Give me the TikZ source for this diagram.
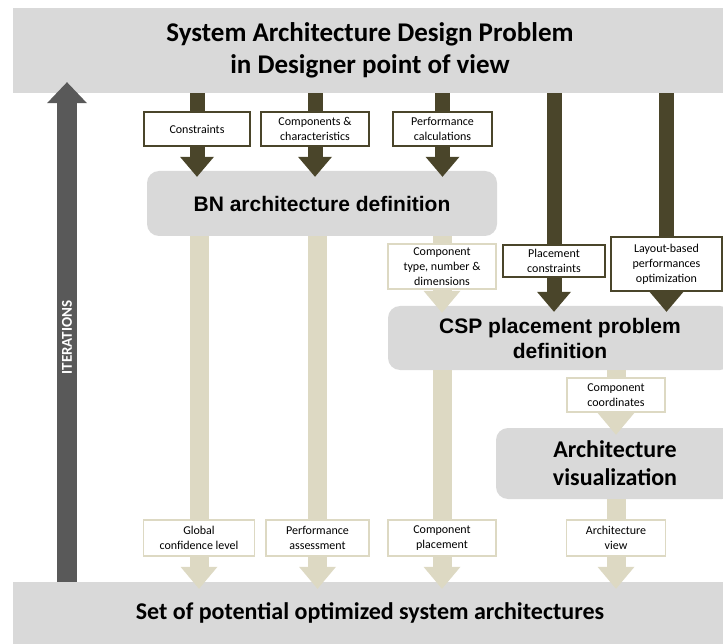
\documentclass[tikz,border=0pt]{standalone}
\usepackage{fontspec}
\setmainfont{Carlito}
\newfontfamily\arialfont{Liberation Sans}
\usetikzlibrary{arrows.meta}
\definecolor{bandgray}{HTML}{D9D9D9}
\definecolor{darkolive}{HTML}{4A452A}
\definecolor{lighttan}{HTML}{DDD9C3}
\definecolor{itergray}{HTML}{595959}
\tikzset{
  band/.style={fill=bandgray, inner sep=0pt, align=center, font=\bfseries\fontsize{24}{28}\selectfont},
  stage/.style={fill=bandgray, rounded corners=12pt, inner sep=0pt, align=center},
  darkbox/.style={draw=darkolive, line width=1.6pt, fill=white, inner sep=0pt, align=center, font=\fontsize{12}{15}\selectfont},
  lightbox/.style={darkbox, draw=lighttan},
  darkflow/.style={darkolive, line width=15pt},
  lightflow/.style={lighttan, line width=19pt},
  darkhead/.style={darkflow, -{Triangle[width=34pt,length=20pt,line width=0pt]}, shorten >=-6pt},
  lighthead/.style={lightflow, -{Triangle[width=37pt,length=22pt,line width=0pt]}, shorten >=-7pt},
  iterflow/.style={itergray, line width=20pt, -{Triangle[width=40pt,length=21pt,line width=0pt]}, shorten >=-11pt},
}
\begin{document}
\begin{tikzpicture}[x=1pt,y=-1pt]
  \useasboundingbox (0,0) rectangle (723,644);
  \clip (0,0) rectangle (723,644);

  % bands
  \node[band, minimum width=714pt, minimum height=85pt, font=\bfseries\fontsize{27}{32}\selectfont] (top) at (370,50.5) {System Architecture Design Problem\\in Designer point of view};
  \node[band, minimum width=714pt, minimum height=62pt] (bottom) at (370,613) {Set of potential optimized system architectures};

  % stages
  \node[stage, minimum width=350pt, minimum height=65pt, font=\arialfont\bfseries\fontsize{21}{25}\selectfont] (bn) at (322,203.5) {BN architecture definition};
  \node[stage, minimum width=344pt, minimum height=64pt, font=\arialfont\bfseries\fontsize{21}{25}\selectfont] (csp) at (560,338) {CSP placement problem\\definition};
  \node[stage, minimum width=238pt, minimum height=71pt, font=\bfseries\fontsize{24}{28}\selectfont] (arch) at (615,463.5) {Architecture\\visualization};

  % inputs
  \node[darkbox, minimum width=106pt, minimum height=34pt] (cons) at (197,129) {Constraints};
  \node[darkbox, minimum width=108pt, minimum height=34pt] (comp) at (315,129) {Components \&\\characteristics};
  \node[darkbox, minimum width=99pt, minimum height=34pt] (perf) at (442.5,129) {Performance\\calculations};
  \node[darkbox, minimum width=102pt, minimum height=32pt] (place) at (554,261) {Placement\\constraints};
  \node[darkbox, minimum width=111pt, minimum height=54pt] (layout) at (666.5,264) {Layout-based\\performances\\optimization};

  % outputs
  \node[lightbox, minimum width=108pt, minimum height=45pt] (ctype) at (442,266.5) {Component\\type, number \&\\dimensions};
  \node[lightbox, minimum width=98pt, minimum height=34pt] (coord) at (616,395) {Component\\coordinates};
  \node[lightbox, minimum width=111pt, minimum height=36pt] (glob) at (199,538) {Global\\confidence level};
  \node[lightbox, minimum width=103pt, minimum height=36pt] (assess) at (317.5,538) {Performance\\assessment};
  \node[lightbox, minimum width=108pt, minimum height=36pt] (cplace) at (442,538) {Component\\placement};
  \node[lightbox, minimum width=99pt, minimum height=36pt] (view) at (616,538) {Architecture\\view};

  % iterations
  \coordinate (iterx) at (67,0);
  \draw[iterflow] (bottom.north -| iterx) -- (top.south -| iterx)
    node[midway, sloped, text=white, font=\bfseries\fontsize{15}{18}\selectfont] {ITERATIONS};

  % dark flows
  \foreach \b in {cons,comp,perf} {
    \draw[darkflow] (top.south -| \b.north) -- (\b.north);
    \draw[darkhead] (\b.south) -- (\b.south |- bn.north);
  }
  \foreach \b in {place,layout} {
    \draw[darkflow] (top.south -| \b.north) -- (\b.north);
    \draw[darkhead] (\b.south) -- (\b.south |- csp.north);
  }

  % light flows
  \draw[lightflow] (bn.south -| ctype.north) -- (ctype.north);
  \draw[lighthead] (ctype.south) -- (ctype.south |- csp.north);
  \foreach \b in {glob,assess} \draw[lightflow] (bn.south -| \b.north) -- (\b.north);
  \draw[lightflow] (csp.south -| cplace.north) -- (cplace.north);
  \draw[lightflow] (csp.south -| coord.north) -- (coord.north);
  \draw[lighthead] (coord.south) -- (coord.south |- arch.north);
  \draw[lightflow] (arch.south -| view.north) -- (view.north);
  \foreach \b in {glob,assess,cplace,view} \draw[lighthead] (\b.south) -- (\b.south |- bottom.north);
\end{tikzpicture}
\end{document}
